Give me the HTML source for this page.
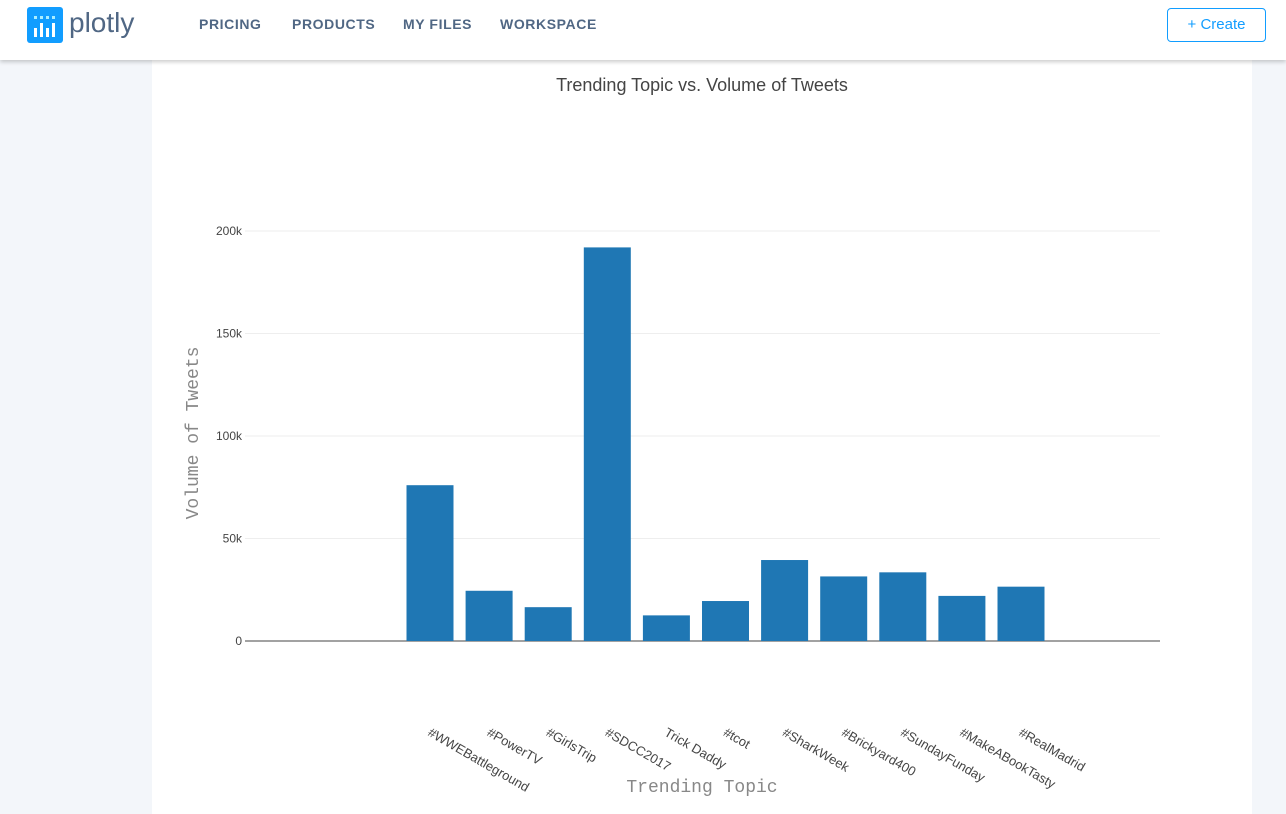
<!DOCTYPE html>
<html><head><meta charset="utf-8">
<style>
body{margin:0;width:1286px;height:814px;background:#f3f6fa;font-family:"Liberation Sans",sans-serif;overflow:hidden;position:relative}
.nav{position:absolute;left:0;top:0;width:1286px;height:60px;background:#fff;box-shadow:0 2px 4px rgba(0,0,0,0.2);z-index:2}
.logo{position:absolute;left:27px;top:7px;width:36px;height:36px;background:#119dff;border-radius:3px}
.brand{position:absolute;left:69px;top:7px;font-size:28px;color:#506784}
.nl{position:absolute;top:16px;font-size:14px;font-weight:bold;letter-spacing:0.6px;color:#506784}
.create{position:absolute;left:1167px;top:8px;width:99px;height:34px;border:1px solid #119dff;border-radius:4px;color:#119dff;font-size:15px;line-height:32px;text-align:center;box-sizing:border-box}
.card{position:absolute;left:152px;top:60px;width:1100px;height:754px;background:#fff}
</style></head><body>
<div class="nav">
<div class="logo"><svg width="36" height="36"><g fill="#aef"><rect x="7" y="9" width="3" height="3"/><rect x="13" y="9" width="3" height="3"/><rect x="19" y="9" width="3" height="3"/><rect x="25" y="9" width="3" height="3"/></g><g fill="#fff"><rect x="7" y="21" width="3" height="9"/><rect x="13" y="16" width="3" height="14"/><rect x="19" y="21" width="3" height="9"/><rect x="25" y="16" width="3" height="14"/></g></svg></div>
<div class="brand">plotly</div>
<div class="nl" style="left:199px">PRICING</div>
<div class="nl" style="left:292px">PRODUCTS</div>
<div class="nl" style="left:403px">MY FILES</div>
<div class="nl" style="left:500px">WORKSPACE</div>
<div class="create">+ Create</div>
</div>
<div class="card"></div>
<svg id="chart" width="1286" height="814" style="position:absolute;left:0;top:0;z-index:1">
<text x="702" y="91" text-anchor="middle" font-size="18" fill="#444">Trending Topic vs. Volume of Tweets</text>
<text transform="translate(198,433) rotate(-90)" text-anchor="middle" font-family="Liberation Mono,monospace" font-size="18" fill="#888">Volume of Tweets</text>
<text x="702" y="792" text-anchor="middle" font-family="Liberation Mono,monospace" font-size="18" fill="#888">Trending Topic</text>
<g id="grid"></g><g id="bars"></g><g id="xl"></g>
</svg>
<script>
const categories=["#WWEBattleground","#PowerTV","#GirlsTrip","#SDCC2017","Trick Daddy","#tcot","#SharkWeek","#Brickyard400","#SundayFunday","#MakeABookTasty","#RealMadrid"];
const values=[76000,24500,16500,192000,12500,19500,39500,31500,33500,22000,26500];
const yTicks=[0,50000,100000,150000,200000];
const yTickLabels=["0","50k","100k","150k","200k"];
const NS="http://www.w3.org/2000/svg";
const y=v=>641-v*(410/200000);
const x=i=>430+i*59.1;
const bw=47;
function mk(t,a,p){const e=document.createElementNS(NS,t);for(const k in a)e.setAttribute(k,a[k]);p.appendChild(e);return e;}
const grid=document.getElementById('grid');
yTicks.forEach((t,i)=>{
 const l=mk('line',{x1:245,x2:1160,y1:y(t),y2:y(t),stroke:t===0?'#444':'#eee','stroke-width':1},grid);
 
 
 const tx=mk('text',{x:242,y:y(t)+4,'text-anchor':'end','font-size':12,fill:'#444'},grid);
 tx.textContent=yTickLabels[i];
 
 
});
const bars=document.getElementById('bars');
values.forEach((v,i)=>{
 const r=mk('rect',{x:x(i)-bw/2,y:y(v),width:bw,height:y(0)-y(v),fill:'#1f77b4'},bars);
 
 
});
const xl=document.getElementById('xl');
categories.forEach((c,i)=>{
 const t=mk('text',{transform:`translate(${x(i)-3},735) rotate(30)`,'font-size':13,fill:'#444'},xl);
 t.textContent=c;
 
 
});
</script>
</body></html>
